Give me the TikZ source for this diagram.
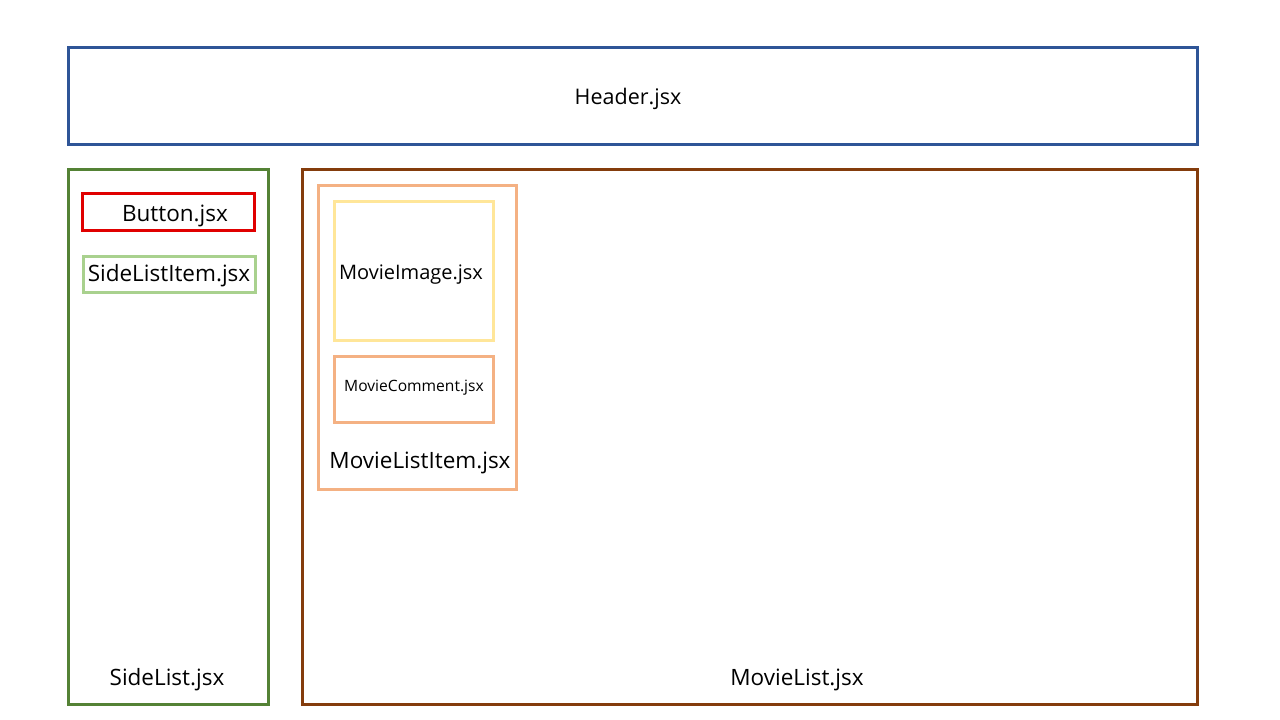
\documentclass[tikz,border=0pt]{standalone}
\usepackage{fontspec}
\setmainfont{Open Sans}
\definecolor{cHead}{HTML}{2F5597}
\definecolor{cSide}{HTML}{548235}
\definecolor{cBtn}{HTML}{E00000}
\definecolor{cSLI}{HTML}{A9D18E}
\definecolor{cML}{HTML}{843C0C}
\definecolor{cMLI}{HTML}{F4B183}
\definecolor{cImg}{HTML}{FFE699}
\begin{document}
\begin{tikzpicture}[x=1pt,y=-1pt,
  box/.style={draw=#1,line width=3pt},
  lbl/.style={inner sep=0pt,font=\fontsize{22.5}{26}\selectfont}]
\useasboundingbox (0,0) rectangle (1280,720);
\fill[white] (0,0) rectangle (1280,720);
\draw[box=cHead] (68,47) rectangle (1197,144);
\node[lbl,font=\fontsize{21.5}{26}\selectfont] (header) at (628,99) {Header.jsx};
\draw[box=cSide] (68,169) rectangle (268,704);
\node[lbl] (side) at (167,680) {SideList.jsx};
\draw[box=cBtn] (82,193) rectangle (254,230);
\node[lbl] (btn) at (175,216) {Button.jsx};
\draw[box=cSLI] (83,256) rectangle (255,292);
\node[lbl] (sli) at (169,276) {SideListItem.jsx};
\draw[box=cML] (302,169) rectangle (1197,704);
\node[lbl] (ml) at (797,680) {MovieList.jsx};
\draw[box=cMLI] (318,185) rectangle (516,489);
\node[lbl] (mli) at (420,463) {MovieListItem.jsx};
\draw[box=cImg] (334,201) rectangle (493,340);
\node[lbl,font=\fontsize{20}{24}\selectfont] (img) at (411,275) {MovieImage.jsx};
\draw[box=cMLI] (334,356) rectangle (493,422);
\node[lbl,font=\fontsize{15.6}{18}\selectfont] (cmt) at (414,388) {MovieComment.jsx};
\end{tikzpicture}
\end{document}
